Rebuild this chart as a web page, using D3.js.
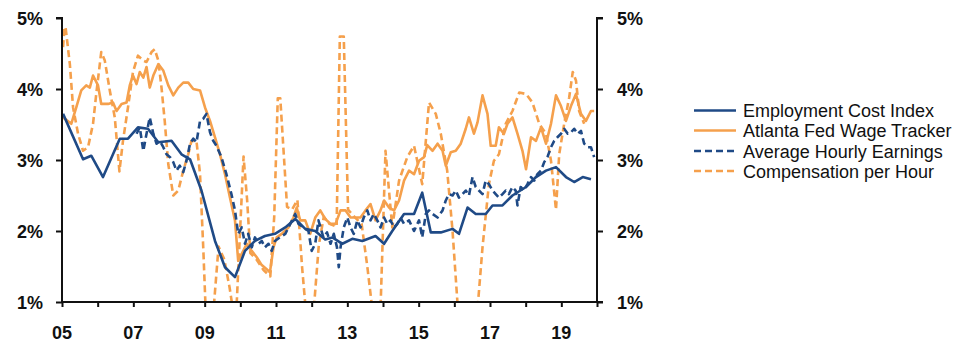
<!DOCTYPE html>
<html><head><meta charset="utf-8">
<script src="https://cdn.jsdelivr.net/npm/d3@7/dist/d3.min.js"></script>
<style>
html,body{margin:0;padding:0;background:#fff;}
svg{display:block;}
.tick-label{font-family:"Liberation Sans",Arial,sans-serif;font-weight:bold;font-size:18px;fill:#111;}
.legend-label{font-family:"Liberation Sans",Arial,sans-serif;font-size:18px;fill:#111;}
</style></head>
<body>
<svg id="chart" width="962" height="345"></svg>
<script>
// ---- data (decimal year, % y/y) ----
const seriesNames = ["Employment Cost Index","Atlanta Fed Wage Tracker","Average Hourly Earnings","Compensation per Hour"];
const yTicks = [1,2,3,4,5];
const yTickLabels = ["1%","2%","3%","4%","5%"];
const xTickYears = [2005,2006,2007,2008,2009,2010,2011,2012,2013,2014,2015,2016,2017,2018,2019,2020];
const xLabelYears = [2005,2007,2009,2011,2013,2015,2017,2019];
const xLabels = ["05","07","09","11","13","15","17","19"];

const eci = [[2005.03,3.65],[2005.59,3.01],[2005.82,3.06],[2006.15,2.76],[2006.62,3.30],[2006.85,3.30],[2007.13,3.46],[2007.41,3.44],[2007.70,3.25],[2008.07,3.27],[2008.35,3.08],[2008.59,3.01],[2008.91,2.57],[2009.29,1.86],[2009.57,1.49],[2009.85,1.35],[2010.13,1.72],[2010.41,1.86],[2010.69,1.93],[2010.97,1.96],[2011.26,2.05],[2011.54,2.17],[2011.82,2.03],[2012.10,2.00],[2012.38,1.88],[2012.58,1.91],[2012.86,1.82],[2013.14,1.89],[2013.42,1.86],[2013.79,1.93],[2014.03,1.82],[2014.26,2.00],[2014.59,2.24],[2014.87,2.24],[2015.10,2.54],[2015.34,1.98],[2015.62,1.98],[2015.95,2.03],[2016.13,1.96],[2016.37,2.33],[2016.60,2.24],[2016.88,2.24],[2017.07,2.36],[2017.35,2.36],[2017.63,2.50],[2018.01,2.62],[2018.29,2.76],[2018.57,2.85],[2018.85,2.90],[2019.13,2.76],[2019.36,2.69],[2019.60,2.76],[2019.83,2.73]];

const atlanta = [[2005.03,3.60],[2005.26,3.51],[2005.40,3.74],[2005.54,3.98],[2005.68,4.05],[2005.78,4.02],[2005.87,4.19],[2006.01,4.05],[2006.10,3.79],[2006.29,3.79],[2006.43,3.81],[2006.53,3.69],[2006.67,3.79],[2006.81,3.81],[2006.90,4.05],[2006.99,4.19],[2007.09,4.07],[2007.18,4.24],[2007.28,4.16],[2007.37,4.31],[2007.46,4.02],[2007.56,4.19],[2007.70,4.35],[2007.84,4.26],[2007.98,4.05],[2008.12,3.91],[2008.26,4.02],[2008.40,4.09],[2008.54,4.09],[2008.68,4.00],[2008.87,3.98],[2009.01,3.74],[2009.15,3.55],[2009.29,3.32],[2009.43,3.08],[2009.57,2.80],[2009.71,2.47],[2009.85,2.15],[2009.94,1.58],[2010.04,1.68],[2010.18,1.82],[2010.32,1.72],[2010.46,1.63],[2010.60,1.52],[2010.74,1.46],[2010.83,1.42],[2010.93,1.77],[2011.02,1.91],[2011.16,1.96],[2011.35,2.05],[2011.49,2.19],[2011.58,2.33],[2011.68,2.15],[2011.82,2.15],[2011.96,1.96],[2012.10,2.19],[2012.24,2.29],[2012.38,2.17],[2012.53,2.10],[2012.67,2.10],[2012.81,2.29],[2012.95,2.29],[2013.09,2.19],[2013.23,2.19],[2013.37,2.19],[2013.51,2.29],[2013.65,2.38],[2013.79,2.15],[2013.93,2.29],[2014.03,2.43],[2014.17,2.33],[2014.31,2.29],[2014.45,2.43],[2014.59,2.71],[2014.73,2.85],[2014.87,2.80],[2015.01,2.99],[2015.15,3.04],[2015.24,3.21],[2015.39,3.13],[2015.53,3.23],[2015.67,3.13],[2015.76,2.92],[2015.90,3.11],[2016.04,3.13],[2016.18,3.23],[2016.32,3.44],[2016.41,3.60],[2016.55,3.37],[2016.65,3.53],[2016.79,3.91],[2016.93,3.65],[2017.02,3.20],[2017.16,3.20],[2017.25,3.46],[2017.39,3.37],[2017.49,3.51],[2017.63,3.60],[2017.77,3.37],[2017.91,3.13],[2018.01,2.87],[2018.15,3.32],[2018.29,3.27],[2018.43,3.46],[2018.57,3.23],[2018.71,3.51],[2018.85,3.91],[2018.99,3.76],[2019.13,3.55],[2019.27,3.76],[2019.41,3.93],[2019.55,3.65],[2019.69,3.55],[2019.83,3.69],[2019.92,3.69]];

const ahe = [[2007.09,3.37],[2007.18,3.46],[2007.28,3.13],[2007.37,3.37],[2007.46,3.60],[2007.56,3.37],[2007.65,3.23],[2007.74,3.27],[2007.84,3.18],[2007.93,3.08],[2008.03,3.04],[2008.12,2.97],[2008.21,2.85],[2008.30,2.92],[2008.40,2.83],[2008.49,2.99],[2008.59,3.23],[2008.68,3.30],[2008.77,3.25],[2008.87,3.55],[2008.96,3.58],[2009.05,3.65],[2009.15,3.39],[2009.24,3.27],[2009.33,3.20],[2009.47,3.04],[2009.61,2.80],[2009.75,2.52],[2009.85,2.29],[2009.94,1.96],[2010.04,2.05],[2010.13,1.82],[2010.22,1.96],[2010.32,1.77],[2010.41,1.91],[2010.51,1.82],[2010.60,1.86],[2010.69,1.77],[2010.79,1.82],[2010.88,1.72],[2010.97,1.86],[2011.11,1.91],[2011.26,1.96],[2011.40,2.10],[2011.54,2.24],[2011.63,2.10],[2011.77,2.05],[2011.91,2.00],[2012.00,1.72],[2012.10,1.82],[2012.19,2.15],[2012.33,1.91],[2012.43,1.98],[2012.53,1.82],[2012.62,1.96],[2012.71,1.77],[2012.76,1.49],[2012.81,1.77],[2012.90,2.05],[2013.00,2.19],[2013.09,2.05],[2013.18,1.96],[2013.28,2.15],[2013.37,2.05],[2013.46,2.19],[2013.56,2.29],[2013.65,2.15],[2013.74,2.24],[2013.84,2.15],[2013.93,2.05],[2014.03,2.19],[2014.12,2.10],[2014.21,2.15],[2014.31,2.05],[2014.40,2.10],[2014.49,2.19],[2014.59,2.10],[2014.73,2.15],[2014.87,2.00],[2015.01,2.15],[2015.10,1.91],[2015.20,2.24],[2015.29,2.29],[2015.39,2.24],[2015.53,2.19],[2015.67,2.29],[2015.76,2.43],[2015.85,2.52],[2015.95,2.50],[2016.04,2.57],[2016.13,2.47],[2016.23,2.52],[2016.32,2.57],[2016.41,2.50],[2016.51,2.76],[2016.60,2.62],[2016.69,2.57],[2016.79,2.52],[2016.88,2.71],[2016.97,2.66],[2017.07,2.57],[2017.16,2.52],[2017.25,2.47],[2017.35,2.52],[2017.44,2.57],[2017.53,2.52],[2017.63,2.62],[2017.72,2.57],[2017.77,2.36],[2017.86,2.62],[2017.95,2.57],[2018.05,2.66],[2018.15,2.76],[2018.24,2.71],[2018.33,2.80],[2018.43,2.85],[2018.52,2.97],[2018.61,3.04],[2018.71,3.18],[2018.80,3.27],[2018.89,3.32],[2018.99,3.37],[2019.08,3.44],[2019.18,3.37],[2019.27,3.39],[2019.36,3.44],[2019.46,3.37],[2019.55,3.41],[2019.64,3.23],[2019.74,3.18],[2019.83,3.18],[2019.92,3.04]];

const cph = [[2005.03,4.59],[2005.07,4.87],[2005.10,4.87],[2005.22,4.35],[2005.31,3.74],[2005.45,3.37],[2005.59,3.13],[2005.73,3.18],[2005.87,3.51],[2005.96,3.93],[2006.10,4.52],[2006.20,4.40],[2006.34,3.98],[2006.48,3.60],[2006.61,2.84],[2006.71,3.27],[2006.85,3.74],[2006.99,4.24],[2007.13,4.47],[2007.28,4.40],[2007.37,4.38],[2007.51,4.52],[2007.60,4.56],[2007.70,4.40],[2007.79,4.02],[2007.88,3.55],[2007.98,2.94],[2008.12,2.50],[2008.26,2.57],[2008.40,2.85],[2008.54,3.08],[2008.63,3.27],[2008.77,3.27],[2008.87,2.80],[2008.96,1.77],[2009.05,0.6],[2009.15,0.4],[2009.25,0.9],[2009.39,1.78],[2009.55,1.6],[2009.70,1.2],[2009.82,0.8],[2009.90,1.0],[2010.09,3.05],[2010.19,2.44],[2010.28,1.69],[2010.45,1.6],[2010.65,1.45],[2010.84,1.36],[2010.95,2.2],[2011.05,3.87],[2011.12,3.87],[2011.31,2.34],[2011.45,2.3],[2011.60,2.44],[2011.73,1.50],[2011.85,0.8],[2011.95,0.6],[2012.06,0.9],[2012.20,1.8],[2012.34,2.2],[2012.50,2.1],[2012.70,2.06],[2012.79,4.74],[2012.90,4.74],[2013.02,2.3],[2013.20,2.2],[2013.40,2.1],[2013.56,1.5],[2013.70,0.9],[2013.80,0.6],[2013.93,0.9],[2014.07,3.13],[2014.26,2.05],[2014.45,2.71],[2014.68,3.04],[2014.87,3.20],[2015.10,2.66],[2015.29,3.81],[2015.48,3.65],[2015.62,3.37],[2015.80,2.85],[2015.95,2.0],[2016.10,0.9],[2016.30,0.4],[2016.50,0.5],[2016.65,0.9],[2016.79,1.77],[2016.97,2.66],[2017.11,2.99],[2017.25,3.08],[2017.44,3.51],[2017.63,3.69],[2017.82,3.95],[2018.01,3.93],[2018.19,3.81],[2018.38,3.51],[2018.57,3.37],[2018.71,2.99],[2018.85,2.30],[2018.94,3.08],[2019.08,3.51],[2019.22,3.88],[2019.32,4.24],[2019.41,4.12],[2019.50,3.69],[2019.64,3.51]];

// ---- styles ----
const navy = "#1f4a86", orange = "#f5a04c";
const styles = [
  {data: eci, color: navy, dash: null},
  {data: atlanta, color: orange, dash: null},
  {data: ahe, color: navy, dash: "7,4"},
  {data: cph, color: orange, dash: "7,4"}
];

const svg = d3.select("#chart");
const pLeft = 62, pRight = 597, pTop = 18, pBottom = 302;
const x = d3.scaleLinear().domain([2005, 2020]).range([pLeft, pRight]);
const y = d3.scaleLinear().domain([1, 5]).range([pBottom, pTop]);

svg.append("defs").append("clipPath").attr("id","clip")
  .append("rect").attr("x", pLeft).attr("y", 0).attr("width", pRight-pLeft).attr("height", pBottom);

const line = d3.line().x(d => x(d[0])).y(d => y(d[1]));
const g = svg.append("g").attr("clip-path","url(#clip)");
// draw order: orange dashed, orange solid, navy solid, navy dashed
[3,1,0,2].forEach(i => {
  const s = styles[i];
  g.append("path").datum(s.data).attr("d", line)
    .attr("fill","none").attr("stroke", s.color)
    .attr("stroke-width", 2.6).attr("stroke-linejoin","round")
    .attr("stroke-dasharray", s.dash);
});

// axes
const axisColor = "#111";
const yLeft = svg.append("g").attr("transform", `translate(${pLeft},0)`)
  .call(d3.axisLeft(y).tickValues(yTicks).tickSize(6).tickFormat(""));
const yRight = svg.append("g").attr("transform", `translate(${pRight},0)`)
  .call(d3.axisRight(y).tickValues(yTicks).tickSize(6).tickFormat(""));
const xAxis = svg.append("g").attr("transform", `translate(0,${pBottom})`)
  .call(d3.axisBottom(x).tickValues(xTickYears).tickSize(5).tickFormat(""));
[yLeft, yRight, xAxis].forEach(a => {
  a.select(".domain").attr("stroke", axisColor).attr("stroke-width", 2);
  a.selectAll(".tick line").attr("stroke", axisColor).attr("stroke-width", 2);
});
yLeft.select(".domain").attr("d", `M-6,${pTop}H0V${pBottom}`);
yRight.select(".domain").attr("d", `M6,${pTop}H0V${pBottom}`);
xAxis.select(".domain").attr("d", `M${pLeft},0H${pRight+6}`);

// tick labels
svg.append("g").selectAll("text").data(yTicks).join("text")
  .attr("class","tick-label").attr("x", 43).attr("y", d => y(d) + 7)
  .attr("text-anchor","end").text((d,i) => yTickLabels[i]);
svg.append("g").selectAll("text").data(yTicks).join("text")
  .attr("class","tick-label").attr("x", 617).attr("y", d => y(d) + 7)
  .attr("text-anchor","start").text((d,i) => yTickLabels[i]);
svg.append("g").selectAll("text").data(xLabelYears).join("text")
  .attr("class","tick-label").attr("x", d => x(d)).attr("y", 339)
  .attr("text-anchor","middle").text((d,i) => xLabels[i]);

// legend
const lg = svg.append("g");
const rows = [110.5, 130.5, 151, 171];
styles.forEach((s, i) => {
  lg.append("line").attr("x1", 694).attr("x2", 736).attr("y1", rows[i]).attr("y2", rows[i])
    .attr("stroke", s.color).attr("stroke-width", 2.6).attr("stroke-dasharray", s.dash);
  lg.append("text").attr("class","legend-label").attr("x", 743).attr("y", rows[i] + 6.5)
    .text(seriesNames[i]);
});
</script>
</body></html>
